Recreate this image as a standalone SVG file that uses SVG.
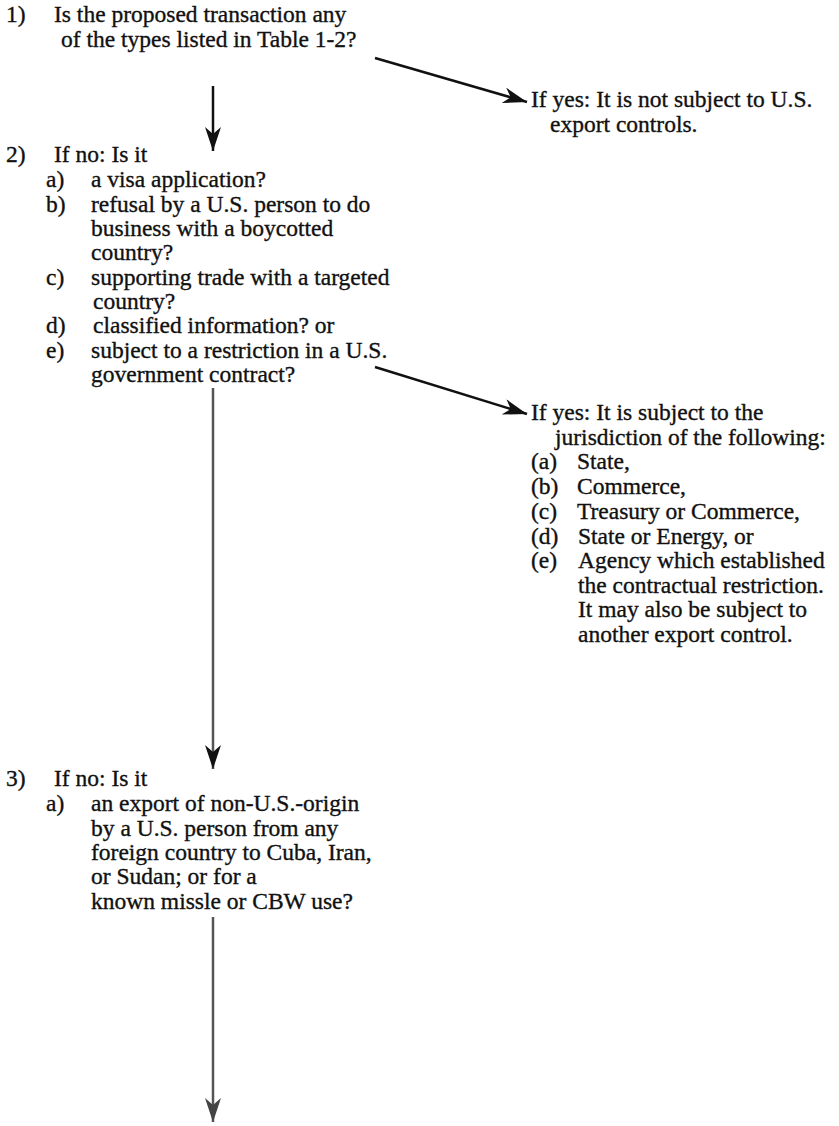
<svg xmlns="http://www.w3.org/2000/svg" width="839" height="1126" viewBox="0 0 839 1126">
<style>
text{font-family:"Liberation Serif","Times New Roman",serif;font-size:23.5px;fill:#111;stroke:#111;stroke-width:0.35}
.c{fill:none;stroke:#111;stroke-width:2.5}
.g{fill:none;stroke:#555;stroke-width:2.5}
</style>
<defs>
<marker id="ah" markerUnits="userSpaceOnUse" markerWidth="26" markerHeight="18" refX="24" refY="8" orient="auto">
<path d="M0,0 L24,8 L0,16 L7,8 Z" fill="#111"/>
</marker>
<marker id="ahg" markerUnits="userSpaceOnUse" markerWidth="26" markerHeight="18" refX="24" refY="8" orient="auto">
<path d="M0,0 L24,8 L0,16 L7,8 Z" fill="#444"/>
</marker>
</defs>
<rect width="839" height="1126" fill="#fff"/>
<g id="connectors">
<line class="c" x1="213" y1="86" x2="213" y2="151" marker-end="url(#ah)"/>
<line class="c" x1="375" y1="58" x2="527" y2="102" marker-end="url(#ah)"/>
<line class="g" x1="213" y1="388" x2="213" y2="769" marker-end="url(#ah)"/>
<line class="c" x1="375" y1="367" x2="527" y2="414" marker-end="url(#ah)"/>
<line class="g" x1="213" y1="917" x2="213" y2="1122" marker-end="url(#ahg)"/>
</g>
<g id="q1">
<text x="6" y="22">1)</text>
<text x="54" y="22">Is the proposed transaction any</text>
<text x="61" y="47">of the types listed in Table 1-2?</text>
</g>
<g id="yes1">
<text x="531" y="107">If yes: It is not subject to U.S.</text>
<text x="550" y="132">export controls.</text>
</g>
<g id="q2">
<text x="6" y="162">2)</text>
<text x="54" y="162">If no: Is it</text>
<text x="46" y="187">a)</text>
<text x="91" y="187">a visa application?</text>
<text x="46" y="212">b)</text>
<text x="91" y="212">refusal by a U.S. person to do</text>
<text x="91" y="236">business with a boycotted</text>
<text x="91" y="260">country?</text>
<text x="46" y="285">c)</text>
<text x="91" y="285">supporting trade with a targeted</text>
<text x="93" y="309">country?</text>
<text x="46" y="333">d)</text>
<text x="93" y="333">classified information? or</text>
<text x="46" y="358">e)</text>
<text x="91" y="358">subject to a restriction in a U.S.</text>
<text x="91" y="382">government contract?</text>
</g>
<g id="yes2">
<text x="531" y="420">If yes: It is subject to the</text>
<text x="555" y="445">jurisdiction of the following:</text>
<text x="531" y="469">(a)</text>
<text x="577" y="469">State,</text>
<text x="531" y="494">(b)</text>
<text x="577" y="494">Commerce,</text>
<text x="531" y="519">(c)</text>
<text x="577" y="519">Treasury or Commerce,</text>
<text x="531" y="544">(d)</text>
<text x="578" y="544">State or Energy, or</text>
<text x="531" y="568">(e)</text>
<text x="578" y="568">Agency which established</text>
<text x="578" y="593">the contractual restriction.</text>
<text x="578" y="617">It may also be subject to</text>
<text x="578" y="642">another export control.</text>
</g>
<g id="q3">
<text x="6" y="786">3)</text>
<text x="54" y="786">If no: Is it</text>
<text x="46" y="811">a)</text>
<text x="91" y="811">an export of non-U.S.-origin</text>
<text x="91" y="836">by a U.S. person from any</text>
<text x="91" y="860">foreign country to Cuba, Iran,</text>
<text x="91" y="884">or Sudan; or for a</text>
<text x="91" y="909">known missle or CBW use?</text>
</g>
</svg>
